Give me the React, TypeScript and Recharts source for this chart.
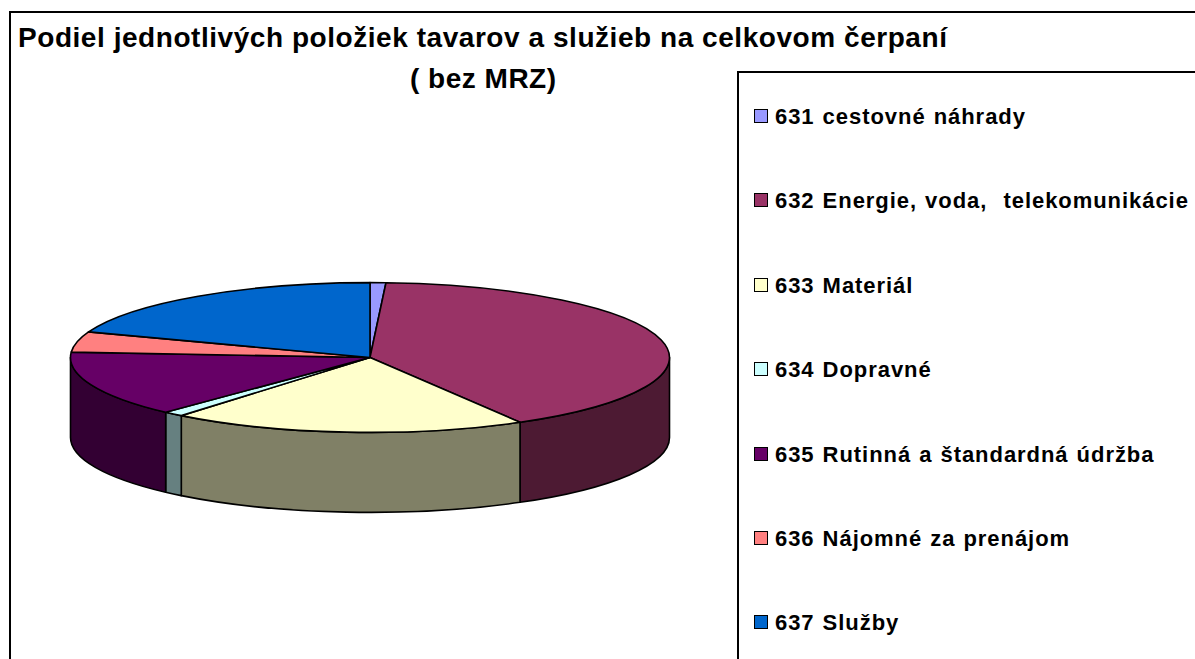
import React from 'react';
import { PieChart, Pie, Legend } from 'recharts';

const categories = [
  '631 cestovné náhrady',
  '632 Energie, voda,  telekomunikácie',
  '633 Materiál',
  '634 Dopravné',
  '635 Rutinná a štandardná údržba',
  '636 Nájomné za prenájom',
  '637 Služby',
];
const shares = [0.85, 40.8, 19.2, 1.1, 14.2, 4.4, 19.45];
const topColors = ['#9999FF', '#993366', '#FFFFCC', '#CCFFFF', '#660066', '#FF8080', '#0066CC'];
const wallColors = ['#4D4D80', '#4D1A33', '#808066', '#668080', '#330033', '#804040', '#003366'];
const titleLines = ['Podiel jednotlivých položiek tavarov a služieb na celkovom čerpaní', '( bez MRZ)'];

const rows = categories.map((name, i) => ({
  name,
  value: shares[i],
  fill: topColors[i],
  wall: wallColors[i],
}));

const FLATTEN = 0.25;
const DEPTH = 80;
const FONT = '"Liberation Sans", Arial, sans-serif';

function Slice3D(props: any) {
  const { cx, cy, outerRadius: r, startAngle, endAngle, fill, wall, payload } = props;
  const wallFill = wall ?? payload?.wall;
  const rx = r;
  const ry = r * FLATTEN;
  const pt = (deg: number, dy = 0) => {
    const a = (deg * Math.PI) / 180;
    return [cx + rx * Math.cos(a), cy - ry * Math.sin(a) + dy];
  };
  const [sx, sy] = pt(startAngle);
  const [ex, ey] = pt(endAngle);
  const large = Math.abs(startAngle - endAngle) > 180 ? 1 : 0;
  const top = `M${cx},${cy} L${sx},${sy} A${rx},${ry} 0 ${large} 1 ${ex},${ey} Z`;

  // visible wall: the part of the slice lying in the front half (-180..0 degrees)
  const wStart = Math.min(startAngle, 0);
  const wEnd = Math.max(endAngle, -180);
  let wallPath = '';
  if (wStart > wEnd) {
    const [a1, b1] = pt(wStart);
    const [a2, b2] = pt(wEnd);
    const [a3, b3] = pt(wEnd, DEPTH);
    const [a4, b4] = pt(wStart, DEPTH);
    wallPath = `M${a1},${b1} A${rx},${ry} 0 0 1 ${a2},${b2} L${a3},${b3} A${rx},${ry} 0 0 0 ${a4},${b4} Z`;
  }
  return (
    <g>
      {wallPath && <path d={wallPath} fill={wallFill} stroke="#000" strokeWidth={1.6} strokeLinejoin="round" />}
      <path d={top} fill={fill} stroke="#000" strokeWidth={1.6} strokeLinejoin="round" />
    </g>
  );
}

function LegendBox({ payload }: any) {
  return (
    <div
      style={{
        position: 'relative',
        width: 500,
        height: 640,
        boxSizing: 'border-box',
        borderLeft: '2px solid #000',
        borderTop: '2px solid #000',
        background: '#fff',
        fontFamily: FONT,
        fontWeight: 700,
        fontSize: 22,
        letterSpacing: 0.95,
        wordSpacing: 1,
        color: '#000',
      }}
    >
      {(payload ?? []).map((item: any, i: number) => (
        <div key={item.value} style={{ position: 'absolute', left: 0, top: 44 + i * 84.4 - 12, height: 24, whiteSpace: 'pre', lineHeight: '24px' }}>
          <span
            style={{
              position: 'absolute',
              left: 15,
              top: 4,
              width: 14,
              height: 14,
              boxSizing: 'border-box',
              border: '1.5px solid #000',
              background: item.color,
            }}
          />
          <span style={{ position: 'absolute', left: 36 }}>{item.value}</span>
        </div>
      ))}
    </div>
  );
}

export default function App() {
  return (
    <div style={{ position: 'absolute', left: 0, top: 0, width: 1195, height: 659, overflow: 'hidden', background: '#fff' }}>
      <PieChart width={1195} height={659} margin={{ top: 0, right: 0, bottom: 0, left: 0 }}>
        <rect x={10} y={12} width={1400} height={900} fill="#fff" stroke="#000" strokeWidth={2} />
        <text x={18} y={47} fontFamily={FONT} fontWeight={700} fontSize={28} letterSpacing={0.55} fill="#000">{titleLines[0]}</text>
        <text x={410} y={88} fontFamily={FONT} fontWeight={700} fontSize={28} letterSpacing={0.5} fill="#000">{titleLines[1]}</text>
        <Pie
          data={rows}
          dataKey="value"
          nameKey="name"
          cx={370}
          cy={357.5}
          outerRadius={299.5}
          innerRadius={0}
          startAngle={90}
          endAngle={-270}
          paddingAngle={0}
          isAnimationActive={false}
          labelLine={false}
          label={false}
          legendType="square"
          shape={Slice3D}
          inactiveShape={Slice3D}
        />
        <Legend
          content={LegendBox}
          layout="vertical"
          wrapperStyle={{ position: 'absolute', left: 737, top: 71, width: 500, height: 640, margin: 0, padding: 0 }}
        />
      </PieChart>
    </div>
  );
}
